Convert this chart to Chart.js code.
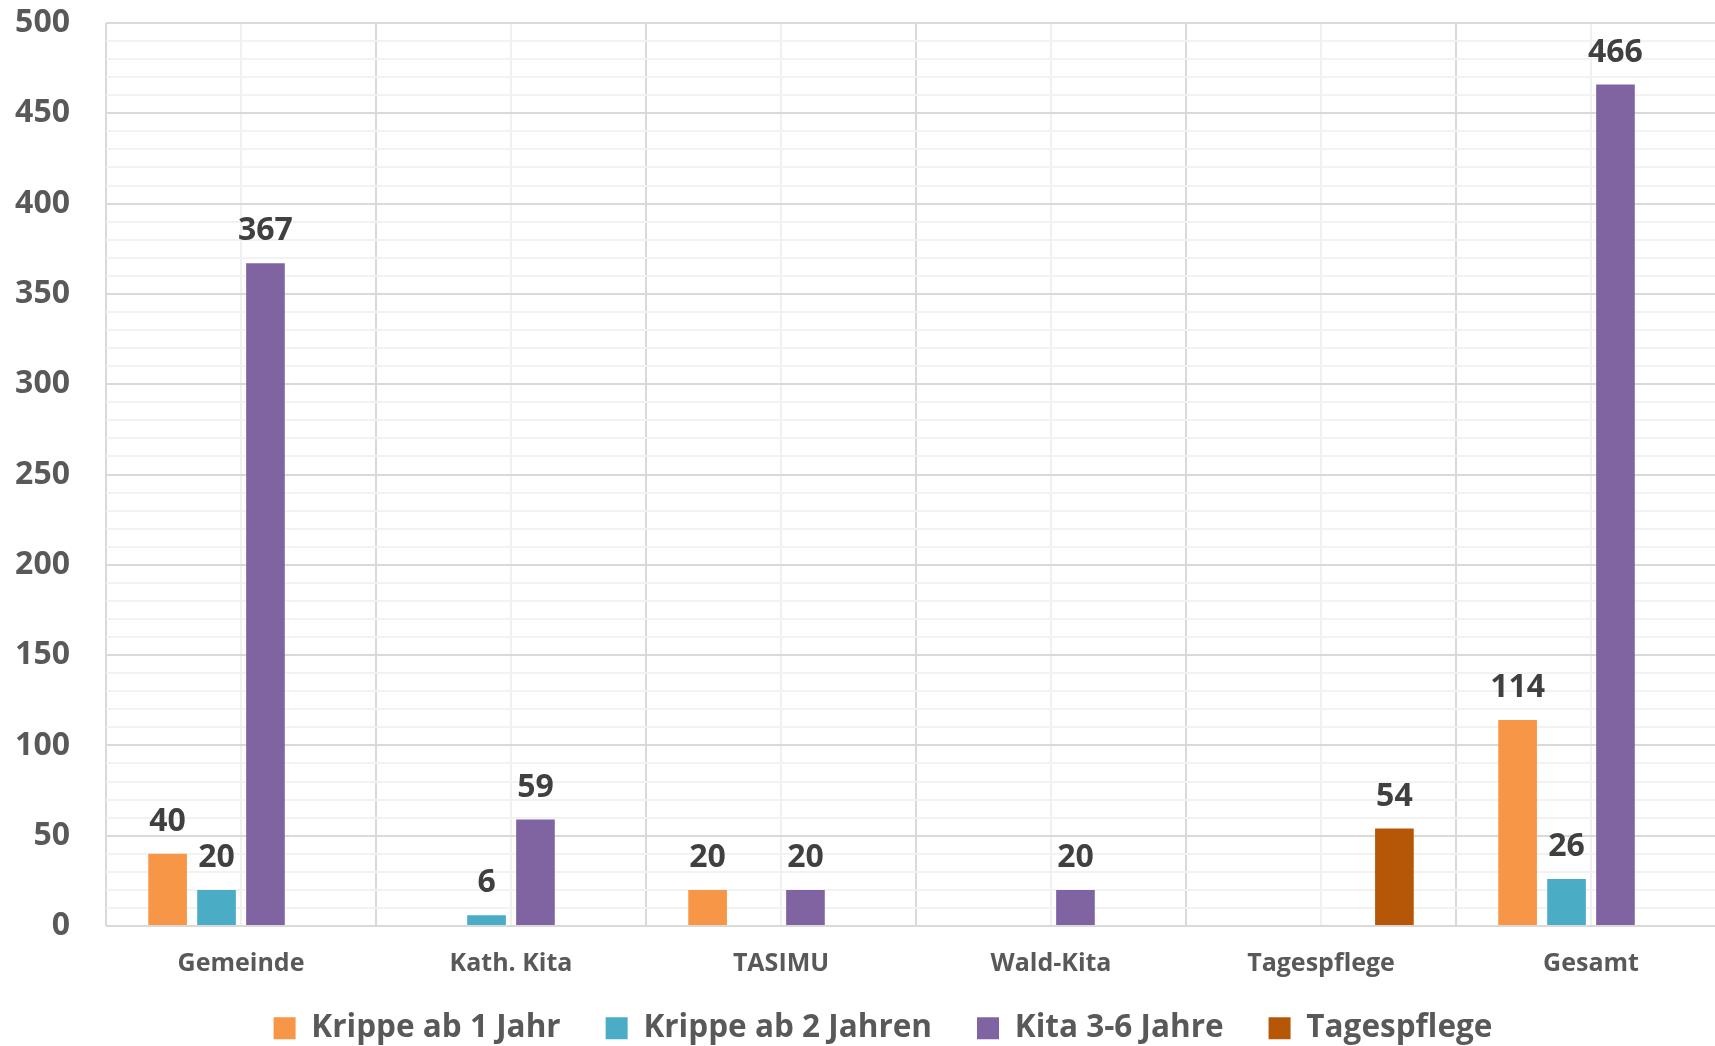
<!DOCTYPE html>
<html>
<head>
<meta charset="utf-8">
<script src="https://cdn.jsdelivr.net/npm/chart.js@4/dist/chart.umd.min.js"></script>
<style>
  html, body { margin: 0; padding: 0; background: #ffffff; overflow: hidden; width: 1715px; height: 1046px; }
  #c { display: block; }
</style>
</head>
<body>
<canvas id="c" width="1766" height="1054" style="width:1766px;height:1054px"></canvas>
<script>
const categories = ['Gemeinde', 'Kath. Kita', 'TASIMU', 'Wald-Kita', 'Tagespflege', 'Gesamt'];
const seriesNames = ['Krippe ab 1 Jahr', 'Krippe ab 2 Jahren', 'Kita 3-6 Jahre', 'Tagespflege'];
const krippe1 = [40, null, 20, null, null, 114];
const krippe2 = [20, 6, null, null, null, 26];
const kita36 = [367, 59, 20, 20, null, 466];
const tagespflege = [null, null, null, null, 54, null];
const seriesColors = ['#F79646', '#4BACC6', '#8064A2', '#B65708'];
const yMin = 0, yMax = 500, yMinorStep = 10, yMajorStep = 50;

const FONT = "'Open Sans', 'DejaVu Sans', sans-serif";

const valueLabels = {
  id: 'valueLabels',
  afterDatasetsDraw(chart) {
    const ctx = chart.ctx;
    ctx.save();
    ctx.font = 'bold 32px ' + FONT;
    ctx.fillStyle = '#404040';
    ctx.textAlign = 'center';
    ctx.textBaseline = 'middle';
    chart.data.datasets.forEach((ds, i) => {
      const meta = chart.getDatasetMeta(i);
      meta.data.forEach((el, j) => {
        const v = ds.data[j];
        if (v === null || v === undefined) return;
        ctx.fillText(String(v), el.x, el.y - 32);
      });
    });
    ctx.restore();
  }
};

// let the category labels overflow their box, and centre the legend on the full canvas width
const layoutTweaks = {
  id: 'layoutTweaks',
  afterLayout(chart) {
    const x = chart.scales.x;
    x.bottom = x.top + 70;
    if (chart.legend) { chart.legend.left = 0; chart.legend.right = chart.width; }
  }
};

const allSeries = [krippe1, krippe2, kita36, tagespflege];

new Chart(document.getElementById('c'), {
  type: 'bar',
  data: {
    labels: categories,
    datasets: allSeries.map((d, i) => ({
      label: seriesNames[i],
      data: d,
      backgroundColor: seriesColors[i],
      borderWidth: 0,
      categoryPercentage: 0.725,
      barPercentage: 0.79,
      xAxisID: 'x'
    }))
  },
  options: {
    responsive: false,
    animation: false,
    devicePixelRatio: 1,
    layout: { padding: { left: 0, right: 40, top: 23, bottom: 0 } },
    plugins: {
      legend: {
        position: 'bottom',
        labels: {
          boxWidth: 22,
          boxHeight: 22,
          padding: 45,
          color: '#595959',
          font: { family: FONT, size: 31.5, weight: 'bold' }
        }
      },
      tooltip: { enabled: false }
    },
    scales: {
      x: {
        type: 'category',
        offset: true,
        grid: { offset: true, color: '#D9D9D9', lineWidth: 2, drawTicks: false },
        border: { display: false },
        ticks: {
          color: '#595959',
          padding: 23,
          font: { family: FONT, size: 25, weight: 'bold' }
        },
        afterFit(s) { s.height = 41.5; }
      },
      x2: {
        type: 'category',
        labels: categories,
        position: 'bottom',
        offset: true,
        grid: { offset: false, color: '#F0F0F0', lineWidth: 2, drawTicks: false },
        border: { display: false },
        ticks: { display: false },
        afterFit(s) { s.height = 0; }
      },
      y: {
        min: yMin,
        max: yMax,
        grid: {
          drawTicks: false,
          lineWidth: 2,
          color: (c) => (c.tick && c.tick.value % yMajorStep === 0) ? '#D9D9D9' : '#F2F2F2'
        },
        border: { display: false },
        ticks: {
          stepSize: yMinorStep,
          autoSkip: false,
          padding: 36,
          color: '#595959',
          font: { family: FONT, size: 32, weight: 'bold' },
          callback: (v) => (v % yMajorStep === 0) ? String(v) : ''
        },
        afterFit(s) { s.width = 106; s.paddingTop = 0; s.paddingBottom = 0; }
      }
    }
  },
  plugins: [valueLabels, layoutTweaks]
});
</script>
</body>
</html>
